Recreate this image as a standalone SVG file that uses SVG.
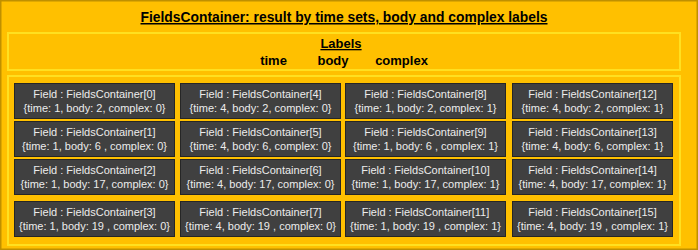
<svg xmlns="http://www.w3.org/2000/svg" width="698" height="250" viewBox="0 0 698 250">
<style>
.bg{fill:#FFC000;stroke:#BF9000;stroke-width:1.5}
.frame{fill:none;stroke:#FFE020;stroke-width:2}
.fb{fill:#404040;stroke:#262626;stroke-width:1}
.ft{font-family:"Liberation Sans",Arial,sans-serif;font-size:11px;fill:#ECECEC;text-anchor:middle}
.hd{font-family:"Liberation Sans",Arial,sans-serif;font-weight:bold;fill:#000;text-anchor:middle}
</style>
<rect class="bg" x="0.75" y="0.75" width="696.5" height="248.5"/>
<text class="hd" x="344" y="22" font-size="15" text-decoration="underline" textLength="407" lengthAdjust="spacingAndGlyphs">FieldsContainer: result by time sets, body and complex labels</text>
<g id="labels">
<rect class="frame" x="8" y="33" width="672" height="37"/>
<text class="hd" x="341" y="48" font-size="13" text-decoration="underline">Labels</text>
<text class="hd" x="273.5" y="65" font-size="13">time</text>
<text class="hd" x="333" y="65" font-size="13">body</text>
<text class="hd" x="401.5" y="65" font-size="13">complex</text>
</g>
<rect class="frame" x="8" y="76" width="672" height="169"/>
<g id="fc0"><rect class="fb" x="14.5" y="83.5" width="160" height="35"/><text class="ft" x="94.5" y="98">Field : FieldsContainer[0]</text><text class="ft" x="94.5" y="112">{time: 1, body: 2, complex: 0}</text></g>
<g id="fc1"><rect class="fb" x="14.5" y="121.5" width="160" height="35"/><text class="ft" x="94.5" y="136">Field : FieldsContainer[1]</text><text class="ft" x="94.5" y="150">{time: 1, body: 6 , complex: 0}</text></g>
<g id="fc2"><rect class="fb" x="14.5" y="159.5" width="160" height="35"/><text class="ft" x="94.5" y="174">Field : FieldsContainer[2]</text><text class="ft" x="94.5" y="188">{time: 1, body: 17, complex: 0}</text></g>
<g id="fc3"><rect class="fb" x="14.5" y="201.5" width="160" height="35"/><text class="ft" x="94.5" y="216">Field : FieldsContainer[3]</text><text class="ft" x="94.5" y="230">{time: 1, body: 19 , complex: 0}</text></g>
<g id="fc4"><rect class="fb" x="180.5" y="83.5" width="160" height="35"/><text class="ft" x="260.5" y="98">Field : FieldsContainer[4]</text><text class="ft" x="260.5" y="112">{time: 4, body: 2, complex: 0}</text></g>
<g id="fc5"><rect class="fb" x="180.5" y="121.5" width="160" height="35"/><text class="ft" x="260.5" y="136">Field : FieldsContainer[5]</text><text class="ft" x="260.5" y="150">{time: 4, body: 6, complex: 0}</text></g>
<g id="fc6"><rect class="fb" x="180.5" y="159.5" width="160" height="35"/><text class="ft" x="260.5" y="174">Field : FieldsContainer[6]</text><text class="ft" x="260.5" y="188">{time: 4, body: 17, complex: 0}</text></g>
<g id="fc7"><rect class="fb" x="180.5" y="201.5" width="160" height="35"/><text class="ft" x="260.5" y="216">Field : FieldsContainer[7]</text><text class="ft" x="260.5" y="230">{time: 4, body: 19 , complex: 0}</text></g>
<g id="fc8"><rect class="fb" x="345.5" y="83.5" width="160" height="35"/><text class="ft" x="425.5" y="98">Field : FieldsContainer[8]</text><text class="ft" x="425.5" y="112">{time: 1, body: 2, complex: 1}</text></g>
<g id="fc9"><rect class="fb" x="345.5" y="121.5" width="160" height="35"/><text class="ft" x="425.5" y="136">Field : FieldsContainer[9]</text><text class="ft" x="425.5" y="150">{time: 1, body: 6 , complex: 1}</text></g>
<g id="fc10"><rect class="fb" x="345.5" y="159.5" width="160" height="35"/><text class="ft" x="425.5" y="174">Field : FieldsContainer[10]</text><text class="ft" x="425.5" y="188">{time: 1, body: 17, complex: 1}</text></g>
<g id="fc11"><rect class="fb" x="345.5" y="201.5" width="160" height="35"/><text class="ft" x="425.5" y="216">Field : FieldsContainer[11]</text><text class="ft" x="425.5" y="230">{time: 1, body: 19 , complex: 1}</text></g>
<g id="fc12"><rect class="fb" x="512.5" y="83.5" width="160" height="35"/><text class="ft" x="592.5" y="98">Field : FieldsContainer[12]</text><text class="ft" x="592.5" y="112">{time: 4, body: 2, complex: 1}</text></g>
<g id="fc13"><rect class="fb" x="512.5" y="121.5" width="160" height="35"/><text class="ft" x="592.5" y="136">Field : FieldsContainer[13]</text><text class="ft" x="592.5" y="150">{time: 4, body: 6, complex: 1}</text></g>
<g id="fc14"><rect class="fb" x="512.5" y="159.5" width="160" height="35"/><text class="ft" x="592.5" y="174">Field : FieldsContainer[14]</text><text class="ft" x="592.5" y="188">{time: 4, body: 17, complex: 1}</text></g>
<g id="fc15"><rect class="fb" x="512.5" y="201.5" width="160" height="35"/><text class="ft" x="592.5" y="216">Field : FieldsContainer[15]</text><text class="ft" x="592.5" y="230">{time: 4, body: 19 , complex: 1}</text></g>
<g id="connectors"></g>
</svg>
